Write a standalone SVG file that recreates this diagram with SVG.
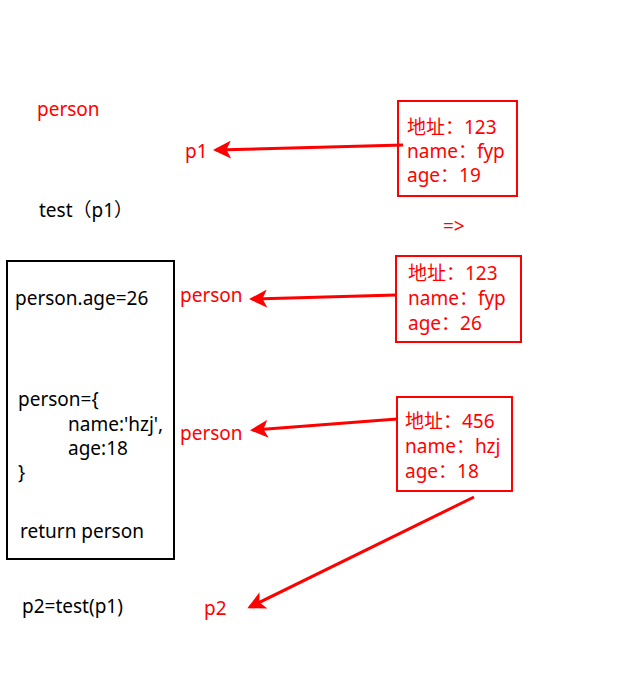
<svg xmlns="http://www.w3.org/2000/svg" width="636" height="688" viewBox="0 0 636 688">
<style>
text{font-family:"Noto Sans","Noto Sans CJK SC",sans-serif;font-size:19px}
.r{fill:#ff0000}
.k{fill:#000}
.box{fill:none;stroke:#ff0000;stroke-width:2}
.blk{fill:none;stroke:#000;stroke-width:2}
.ar{stroke:#ff0000;stroke-width:3;fill:none;marker-end:url(#ah)}
</style>
<defs>
<marker id="ah" markerWidth="6" markerHeight="6" refX="5" refY="3" orient="auto" markerUnits="strokeWidth">
<path d="M0,0 L6,3 L0,6 L1.5,3 Z" fill="#ff0000"/>
</marker>
</defs>
<rect width="636" height="688" fill="#fff"/>
<g id="labels">
<text class="r" x="37" y="116">person</text>
<text class="r" x="185" y="158">p1</text>
<text class="k" x="39" y="217">test（p1）</text>
<text class="r" x="443" y="233">=&gt;</text>
<text class="r" x="180" y="302">person</text>
<text class="r" x="180" y="440">person</text>
<text class="r" x="204" y="615">p2</text>
<text class="k" x="22" y="613">p2=test(p1)</text>
</g>
<g id="obj1">
<rect class="box" x="398" y="101" width="119" height="95"/>
<text class="r" x="407" y="134">地址：123</text>
<text class="r" x="407" y="158">name：fyp</text>
<text class="r" x="407" y="182">age：19</text>
</g>
<g id="obj2">
<rect class="box" x="396" y="256" width="125" height="86"/>
<text class="r" x="408" y="280">地址：123</text>
<text class="r" x="408" y="305">name：fyp</text>
<text class="r" x="408" y="330">age：26</text>
</g>
<g id="obj3">
<rect class="box" x="397" y="397" width="115" height="94"/>
<text class="r" x="405" y="428">地址：456</text>
<text class="r" x="405" y="453">name：hzj</text>
<text class="r" x="405" y="478">age：18</text>
</g>
<g id="func">
<rect class="blk" x="7" y="261" width="167" height="298"/>
<text class="k" x="15" y="305">person.age=26</text>
<text class="k" x="18" y="406">person={</text>
<text class="k" x="68" y="431">name:'hzj',</text>
<text class="k" x="68" y="455">age:18</text>
<text class="k" x="18" y="479">}</text>
<text class="k" x="20" y="538">return person</text>
</g>
<g id="connectors">
<line class="ar" x1="403" y1="145" x2="216" y2="150"/>
<line class="ar" x1="396" y1="295" x2="252" y2="299"/>
<line class="ar" x1="397" y1="419" x2="253" y2="430"/>
<line class="ar" x1="474" y1="497" x2="250" y2="607"/>
</g>
</svg>
